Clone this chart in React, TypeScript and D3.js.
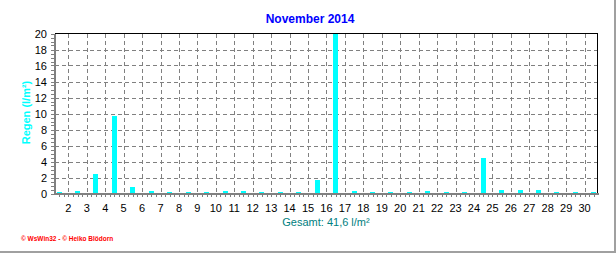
import React from "react";
import * as d3 from "d3";

const days: number[] = d3.range(1, 31);
const rain: number[] = [
  0, 0.3, 2.4, 9.7, 0.8, 0.3, 0, 0, 0, 0.3,
  0.3, 0, 0, 0, 1.7, 20.5, 0.3, 0, 0, 0,
  0.3, 0, 0, 4.5, 0.4, 0.4, 0.4, 0, 0, 0,
];
const yTicks: number[] = [0, 2, 4, 6, 8, 10, 12, 14, 16, 18, 20];
const xLabels: number[] = d3.range(2, 31);
const title = "November 2014";
const yTitle = "Regen (l/m²)";
const totalText = "Gesamt: 41,6 l/m²";
const footer = "© WsWin32 - © Heiko Blödorn";

const W = 616;
const H = 253;
const L = 54.5, R = 597.5, T = 33.5, B = 193.5;

export default function App() {
  const x = d3.scaleLinear().domain([1.25, 30.7]).range([L, R]);
  const y = d3.scaleLinear().domain([0, 20]).range([B, T]);
  const minorX = d3.range(1.5, 30.6, 0.25);
  const minorY = d3.range(0, 20.01, 0.5);
  const font = "'Liberation Sans', Arial, sans-serif";
  const barW = 5;
  return (
    <svg
      width={W}
      height={H}
      style={{ position: "absolute", left: 0, top: 0, background: "#fff" }}
      fontFamily={font}
    >
      <rect x={0} y={0} width={W} height={H} fill="#fff" />
      {/* outer frame edges */}
      <line x1={615} y1={0} x2={615} y2={H} stroke="#a0a0a0" strokeWidth={2} />
      <line x1={0} y1={252} x2={W} y2={252} stroke="#a0a0a0" strokeWidth={2} />

      <text x={310} y={23} textAnchor="middle" fontSize={12} fontWeight="bold" fill="#0000ff">
        {title}
      </text>

      {/* grid */}
      <g shapeRendering="crispEdges">
        {yTicks.filter((t) => t > 0 && t < 20).map((t) => (
          <line key={"gy" + t} x1={L} x2={R} y1={Math.round(y(t))} y2={Math.round(y(t))}
            stroke="#808080" strokeDasharray="4,3" />
        ))}
        {xLabels.map((d) => (
          <line key={"gx" + d} x1={Math.round(x(d))} x2={Math.round(x(d))} y1={T} y2={B}
            stroke="#808080" strokeDasharray="4,3" />
        ))}
      </g>

      {/* bars */}
      <g shapeRendering="crispEdges">
        {days.map((d, i) => {
          const v = Math.min(rain[i], 20);
          const top = y(v);
          const h = Math.max(B - top, 1.5);
          return (
            <rect key={"b" + d} x={Math.round(x(d + 0.5) - barW / 2)} y={B - h} width={barW}
              height={h + 0.5} fill="#00ffff" />
          );
        })}
      </g>

      {/* frame */}
      <g shapeRendering="crispEdges">
        <line x1={L} x2={R + 0.5} y1={T} y2={T} stroke="#000" strokeWidth={1.5} />
        <line x1={R} x2={R} y1={T} y2={B} stroke="#000" strokeWidth={1.5} />
        <line x1={L} x2={L} y1={T} y2={B + 1} stroke="#808080" strokeWidth={2} />
        <line x1={L} x2={R + 1} y1={B} y2={B} stroke="#808080" strokeWidth={2} />
        {minorX.map((t) => (
          <line key={"mx" + t} x1={Math.round(x(t)) + 0.5} x2={Math.round(x(t)) + 0.5} y1={B} y2={B + 3.5}
            stroke="#808080" />
        ))}
        {minorY.map((t) => (
          <line key={"my" + t} x1={L - 3.5} x2={L} y1={Math.round(y(t)) + 0.5} y2={Math.round(y(t)) + 0.5}
            stroke="#808080" />
        ))}
      </g>

      {/* y tick labels */}
      {yTicks.map((t) => (
        <text key={"yl" + t} x={47} y={y(t) + 4.5} textAnchor="end" fontSize={11} fill="#000">
          {t}
        </text>
      ))}
      {/* x tick labels */}
      {xLabels.map((d) => (
        <text key={"xl" + d} x={x(d)} y={212} textAnchor="middle" fontSize={11} fill="#000">
          {d}
        </text>
      ))}

      <text transform="translate(29.5,112.5) rotate(-90)" textAnchor="middle" fontSize={11}
        fontWeight="bold" fill="#00ffff">
        {yTitle}
      </text>

      <text x={326} y={226} textAnchor="middle" fontSize={11} fill="#008080">
        {totalText}
      </text>

      <text x={21} y={241} fontSize={6.5} fontWeight="bold" fill="#ff0000">
        {footer}
      </text>
    </svg>
  );
}
